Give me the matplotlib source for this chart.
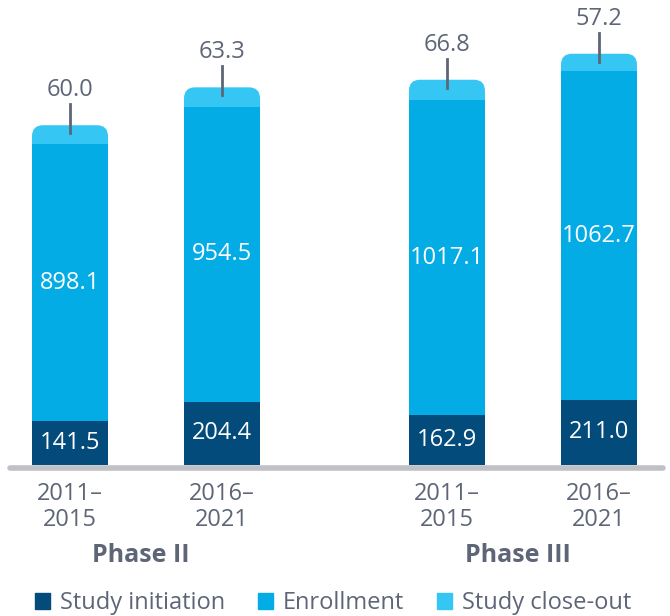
import matplotlib.pyplot as plt
from matplotlib.patches import FancyBboxPatch, Patch
import numpy as np

plt.rcParams['font.family'] = ['Open Sans', 'DejaVu Sans']

# data
periods = ['2011–\n2015', '2016–\n2021', '2011–\n2015', '2016–\n2021']
phases = ['Phase II', 'Phase III']
initiation = [141.5, 204.4, 162.9, 211.0]
enrollment = [898.1, 954.5, 1017.1, 1062.7]
closeout = [60.0, 63.3, 66.8, 57.2]
series = ['Study initiation', 'Enrollment', 'Study close-out']

c_init = '#024b7b'
c_enr = '#04ace6'
c_close = '#36c6f3'
grey = '#5d6577'

xpos = np.array([0, 1, 2.48, 3.48])
width = 0.5
fs = 17

# pixel scales (x: 152 px per unit, y: 0.309 px per unit)
sx, sy = 152.0, 0.309
fig = plt.figure(figsize=(6.7, 6.16), dpi=100)
ax = fig.add_axes([0, 0, 1, 1])
ax.set_xlim(-70 / sx, (670 - 70) / sx)
ax.set_ylim(-151 / sy, (616 - 151) / sy)
ax.axis('off')

r_x = 11 / sx
aspect = (11 / sy) / r_x
for i, x in enumerate(xpos):
    b = initiation[i] + enrollment[i]
    top = b + closeout[i]
    box = FancyBboxPatch((x - width / 2, b - 60), width, top - b + 60,
                         boxstyle='round,pad=0,rounding_size=%f' % r_x,
                         mutation_aspect=aspect, fc=c_close, ec='none', zorder=1)
    ax.add_patch(box)

ax.bar(xpos, enrollment, width, bottom=initiation, color=c_enr, zorder=2)
ax.bar(xpos, initiation, width, color=c_init, zorder=2)

for i, x in enumerate(xpos):
    ax.text(x, initiation[i] / 2, '%.1f' % initiation[i], color='white',
            ha='center', va='center', fontsize=fs, zorder=3)
    ax.text(x, initiation[i] + enrollment[i] / 2, '%.1f' % enrollment[i],
            color='white', ha='center', va='center', fontsize=fs, zorder=3)
    top = initiation[i] + enrollment[i] + closeout[i]
    ax.plot([x, x], [top - 8 / sy, top + 21 / sy], color=grey, lw=2, zorder=4)
    ax.text(x, top + 35 / sy, '%.1f' % closeout[i], color=grey,
            ha='center', va='center', fontsize=fs)
    ax.text(x, -42 / sy, periods[i], color=grey, ha='center', va='center',
            fontsize=fs, linespacing=1.12)

ax.plot([-60 / sx, (663 - 70) / sx], [-3 / sy, -3 / sy], color='#bfc1c6',
        lw=4, solid_capstyle='round', zorder=0)

for j, name in enumerate(phases):
    cx = (xpos[2 * j] + xpos[2 * j + 1]) / 2 - 5 / sx
    ax.text(cx, -91 / sy, name, color=grey, ha='center', va='center',
            fontsize=18, fontweight='bold')

handles = [Patch(color=c) for c in [c_init, c_enr, c_close]]
leg = fig.legend(handles, series, loc='center', bbox_to_anchor=(0.497, 13 / 616),
                 ncol=3, frameon=False, fontsize=fs, handlelength=0.65,
                 handleheight=0.65, handletextpad=0.4, columnspacing=1.4,
                 borderpad=0)
for t in leg.get_texts():
    t.set_color(grey)

fig.savefig('out.png', dpi=100)
